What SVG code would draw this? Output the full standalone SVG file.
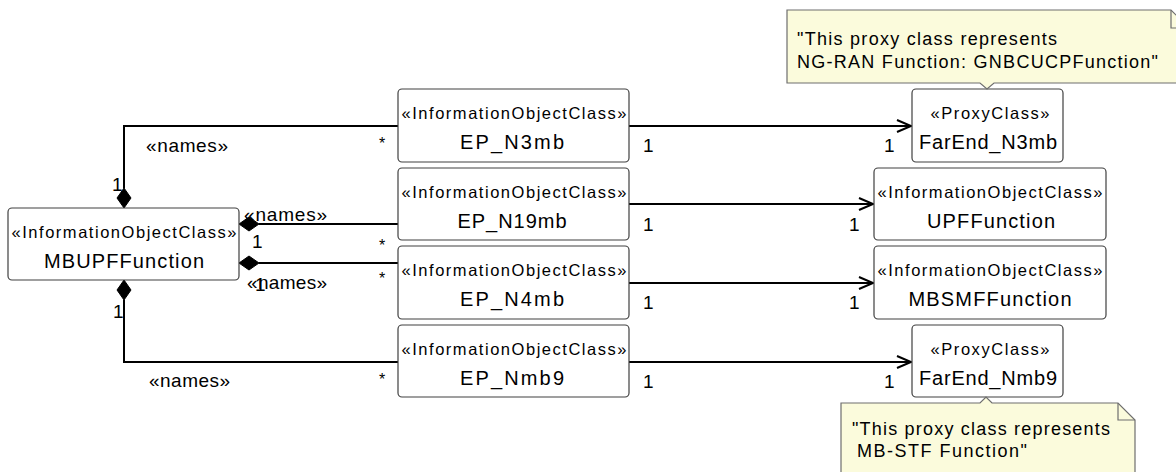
<svg xmlns="http://www.w3.org/2000/svg" width="1176" height="472" viewBox="0 0 1176 472">
<style>
.box{fill:#fff;stroke:#404040;stroke-width:1.2}
.t{font-family:"Liberation Sans",Arial,sans-serif;fill:#000}
.st{font-size:16.5px;text-anchor:middle}
.nm{font-size:20px;text-anchor:middle}
.lb{font-size:19px}
.ast{font-size:16px;text-anchor:middle}
.conn{fill:none;stroke:#000;stroke-width:2}
.dia{fill:#000;stroke:#000;stroke-width:1}
.note{fill:#fbfbdc;stroke:#6e6e6e;stroke-width:1.2}
.nt{font-size:18px}
</style>
<defs>
<marker id="arr" markerUnits="userSpaceOnUse" markerWidth="18" markerHeight="16" refX="15" refY="7" orient="auto">
<path d="M1,1 L15,7 L1,13" fill="none" stroke="#000" stroke-width="2"/>
</marker>
</defs>

<g id="connectors">
<path class="conn" d="M124,188 V126 H398"/>
<polygon class="dia" points="124,188 131,198 124,208 117,198"/>
<path class="conn" d="M259,224 H398"/>
<polygon class="dia" points="239,224 249,217 259,224 249,231"/>
<path class="conn" d="M259,263 H398"/>
<polygon class="dia" points="239,263 249,256 259,263 249,270"/>
<path class="conn" d="M124,300 V362 H398"/>
<polygon class="dia" points="124,280 131,290 124,300 117,290"/>
<path class="conn" d="M629,126 H911" marker-end="url(#arr)"/>
<path class="conn" d="M629,204 H873" marker-end="url(#arr)"/>
<path class="conn" d="M629,283 H873" marker-end="url(#arr)"/>
<path class="conn" d="M629,362 H911" marker-end="url(#arr)"/>
<text class="t lb" x="146" y="152" textLength="82" lengthAdjust="spacing">«names»</text>
<text class="t lb" x="112" y="191">1</text>
<text class="t ast" x="382" y="149">*</text>
<text class="t lb" x="244" y="221" textLength="83" lengthAdjust="spacing">«names»</text>
<text class="t lb" x="252" y="248">1</text>
<text class="t ast" x="382" y="251">*</text>
<text class="t lb" x="247" y="289" textLength="80" lengthAdjust="spacing">«names»</text>
<text class="t lb" x="255" y="291">1</text>
<text class="t ast" x="382" y="284">*</text>
<text class="t lb" x="149" y="387" textLength="81" lengthAdjust="spacing">«names»</text>
<text class="t lb" x="113" y="318">1</text>
<text class="t ast" x="382" y="385">*</text>
<text class="t lb" x="643" y="152">1</text>
<text class="t lb" x="643" y="231">1</text>
<text class="t lb" x="643" y="309">1</text>
<text class="t lb" x="643" y="388">1</text>
<text class="t lb" x="884" y="152">1</text>
<text class="t lb" x="849" y="231">1</text>
<text class="t lb" x="849" y="309">1</text>
<text class="t lb" x="884" y="388">1</text>
</g>

<g id="MBUPFFunction">
<rect class="box" x="8" y="208" width="231" height="72" rx="4"/>
<text class="t st" x="124" y="238" textLength="225" lengthAdjust="spacing">«InformationObjectClass»</text>
<text class="t nm" x="124" y="268" textLength="160" lengthAdjust="spacing">MBUPFFunction</text>
</g>

<g id="EP_N3mb">
<rect class="box" x="398" y="89" width="231" height="73" rx="4"/>
<text class="t st" x="514" y="119" textLength="225" lengthAdjust="spacing">«InformationObjectClass»</text>
<text class="t nm" x="512" y="149" textLength="104" lengthAdjust="spacing">EP_N3mb</text>
</g>
<g id="EP_N19mb">
<rect class="box" x="398" y="168" width="231" height="72" rx="4"/>
<text class="t st" x="514" y="198" textLength="225" lengthAdjust="spacing">«InformationObjectClass»</text>
<text class="t nm" x="512" y="228" textLength="109" lengthAdjust="spacing">EP_N19mb</text>
</g>
<g id="EP_N4mb">
<rect class="box" x="398" y="246" width="231" height="73" rx="4"/>
<text class="t st" x="514" y="276" textLength="225" lengthAdjust="spacing">«InformationObjectClass»</text>
<text class="t nm" x="512" y="306" textLength="104" lengthAdjust="spacing">EP_N4mb</text>
</g>
<g id="EP_Nmb9">
<rect class="box" x="398" y="325" width="231" height="72" rx="4"/>
<text class="t st" x="514" y="355" textLength="225" lengthAdjust="spacing">«InformationObjectClass»</text>
<text class="t nm" x="512" y="385" textLength="104" lengthAdjust="spacing">EP_Nmb9</text>
</g>

<g id="FarEnd_N3mb">
<rect class="box" x="912" y="89" width="151" height="73" rx="4"/>
<text class="t st" x="990" y="119" textLength="119" lengthAdjust="spacing">«ProxyClass»</text>
<text class="t nm" x="988" y="149" textLength="138" lengthAdjust="spacing">FarEnd_N3mb</text>
</g>
<g id="UPFFunction">
<rect class="box" x="874" y="168" width="232" height="72" rx="4"/>
<text class="t st" x="990" y="198" textLength="225" lengthAdjust="spacing">«InformationObjectClass»</text>
<text class="t nm" x="991" y="228" textLength="128" lengthAdjust="spacing">UPFFunction</text>
</g>
<g id="MBSMFFunction">
<rect class="box" x="874" y="246" width="232" height="73" rx="4"/>
<text class="t st" x="990" y="276" textLength="225" lengthAdjust="spacing">«InformationObjectClass»</text>
<text class="t nm" x="990" y="306" textLength="163" lengthAdjust="spacing">MBSMFFunction</text>
</g>
<g id="FarEnd_Nmb9">
<rect class="box" x="912" y="325" width="151" height="72" rx="4"/>
<text class="t st" x="990" y="355" textLength="119" lengthAdjust="spacing">«ProxyClass»</text>
<text class="t nm" x="988" y="385" textLength="138" lengthAdjust="spacing">FarEnd_Nmb9</text>
</g>

<g id="note_N3mb">
<path class="note" d="M787,10 H1171 L1189,28 V83 H994 L987,89 L980,83 H787 Z"/>
<path fill="none" stroke="#6e6e6e" stroke-width="1.2" d="M1171,10 V28 H1189"/>
<text class="t nt" x="797" y="45" textLength="260" lengthAdjust="spacing">"This proxy class represents</text>
<text class="t nt" x="797" y="68" textLength="361" lengthAdjust="spacing">NG-RAN Function: GNBCUCPFunction"</text>
</g>
<g id="note_Nmb9">
<path class="note" d="M841,403 H980 L986,397 L992,403 H1118 L1135,420 V480 H841 Z"/>
<path fill="none" stroke="#6e6e6e" stroke-width="1.2" d="M1118,403 V420 H1135"/>
<text class="t nt" x="852" y="435" textLength="258" lengthAdjust="spacing">"This proxy class represents</text>
<text class="t nt" x="857" y="457" textLength="170" lengthAdjust="spacing">MB-STF Function"</text>
</g>
</svg>
